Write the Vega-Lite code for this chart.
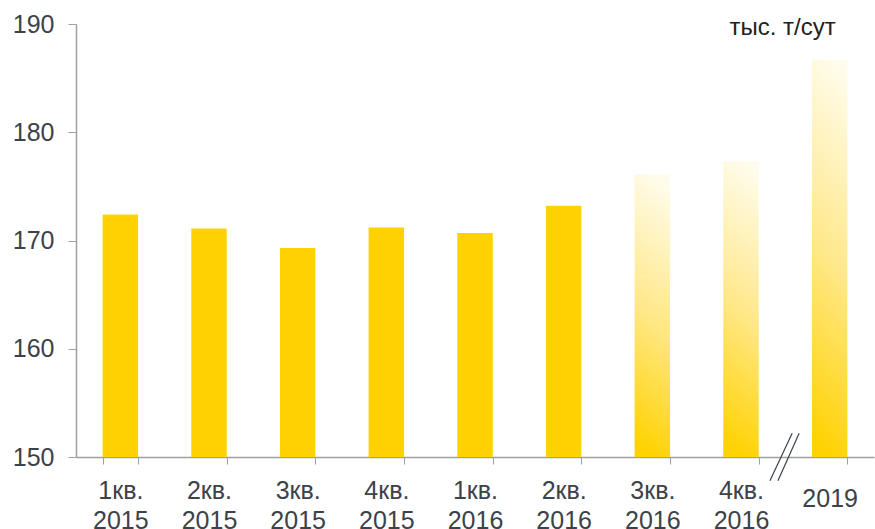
{
  "$schema": "https://vega.github.io/schema/vega-lite/v6.json",
  "width": 798,
  "height": 433,
  "autosize": {"type": "none"},
  "padding": {"left": 76, "top": 24, "right": 1, "bottom": 72},
  "background": "white",
  "config": {"view": {"stroke": null}, "font": "Liberation Sans"},
  "datasets": {
    "bars": [
      {"period": "1кв.|2015", "value": 172.4, "kind": "fact"},
      {"period": "2кв.|2015", "value": 171.1, "kind": "fact"},
      {"period": "3кв.|2015", "value": 169.3, "kind": "fact"},
      {"period": "4кв.|2015", "value": 171.2, "kind": "fact"},
      {"period": "1кв.|2016", "value": 170.7, "kind": "fact"},
      {"period": "2кв.|2016", "value": 173.2, "kind": "fact"},
      {"period": "3кв.|2016", "value": 176.1, "kind": "forecast"},
      {"period": "4кв.|2016", "value": 177.3, "kind": "forecast"},
      {"period": "2019", "value": 186.7, "kind": "forecast"}
    ],
    "unit": [{"period": "2019", "label": "тыс. т/сут"}],
    "brk": [{"period": "2019"}]
  },
  "layer": [
    {
      "data": {"name": "bars"},
      "transform": [{"filter": "datum.kind === 'fact'"}],
      "mark": {"type": "bar", "color": "#FFD200"},
      "encoding": {
        "x": {
          "field": "period", "type": "nominal", "sort": null,
          "scale": {"domain": ["1кв.|2015", "2кв.|2015", "3кв.|2015", "4кв.|2015", "1кв.|2016", "2кв.|2016", "3кв.|2016", "4кв.|2016", "2019"], "paddingInner": 0.6, "paddingOuter": 0.3},
          "axis": {
            "title": null, "labelAngle": 0,
            "labelExpr": "split(datum.label, '|')",
            "labelFontSize": 25, "labelColor": "#3c4249", "labelLineHeight": 30,
            "labelPadding": {"condition": {"test": "datum.value === '2019'", "value": 22}, "value": 14},
            "labelBaseline": "top",
            "domainColor": "#a0a0a0", "domainWidth": 1.5,
            "tickColor": "#a0a0a0", "tickSize": 7, "tickBand": "extent"
          }
        },
        "y": {
          "field": "value", "type": "quantitative",
          "scale": {"domain": [150, 190], "nice": false, "zero": false},
          "axis": {
            "title": null, "values": [150, 160, 170, 180, 190], "grid": false,
            "labelFontSize": 25, "labelColor": "#3c4249", "labelPadding": 14,
            "domainColor": "#a0a0a0", "domainWidth": 1.5,
            "tickColor": "#a0a0a0", "tickSize": 8
          }
        },
        "y2": {"datum": 150}
      }
    },
    {
      "data": {"name": "bars"},
      "transform": [{"filter": "datum.kind === 'forecast'"}],
      "mark": {
        "type": "bar",
        "fill": {
          "gradient": "linear", "x1": 0.55, "y1": 0, "x2": 0.45, "y2": 1,
          "stops": [
            {"offset": 0, "color": "#FFFCEB"},
            {"offset": 0.5, "color": "#FFE88A"},
            {"offset": 1, "color": "#FFD200"}
          ]
        }
      },
      "encoding": {
        "x": {"field": "period", "type": "nominal", "sort": null},
        "y": {"field": "value", "type": "quantitative"},
        "y2": {"datum": 150}
      }
    },
    {
      "data": {"name": "unit"},
      "mark": {"type": "text", "align": "right", "baseline": "middle", "fontSize": 24, "fill": "#222222", "dx": 6},
      "encoding": {
        "x": {"field": "period", "type": "nominal", "sort": null},
        "y": {"datum": 189.6, "type": "quantitative"},
        "text": {"field": "label", "type": "nominal"}
      }
    },
    {
      "data": {"name": "brk"},
      "mark": {"type": "rule", "color": "#3c4249", "strokeWidth": 1.2, "xOffset": -42, "x2Offset": -37.5, "clip": false},
      "encoding": {
        "x": {"field": "period", "type": "nominal", "sort": null, "bandPosition": 0},
        "x2": {"field": "period"},
        "y": {"datum": 147.8, "type": "quantitative"},
        "y2": {"datum": 152.2}
      }
    },
    {
      "data": {"name": "brk"},
      "mark": {"type": "rule", "color": "#3c4249", "strokeWidth": 1.2, "xOffset": -34, "x2Offset": -30.5, "clip": false},
      "encoding": {
        "x": {"field": "period", "type": "nominal", "sort": null, "bandPosition": 0},
        "x2": {"field": "period"},
        "y": {"datum": 147.8, "type": "quantitative"},
        "y2": {"datum": 152.2}
      }
    }
  ]
}
